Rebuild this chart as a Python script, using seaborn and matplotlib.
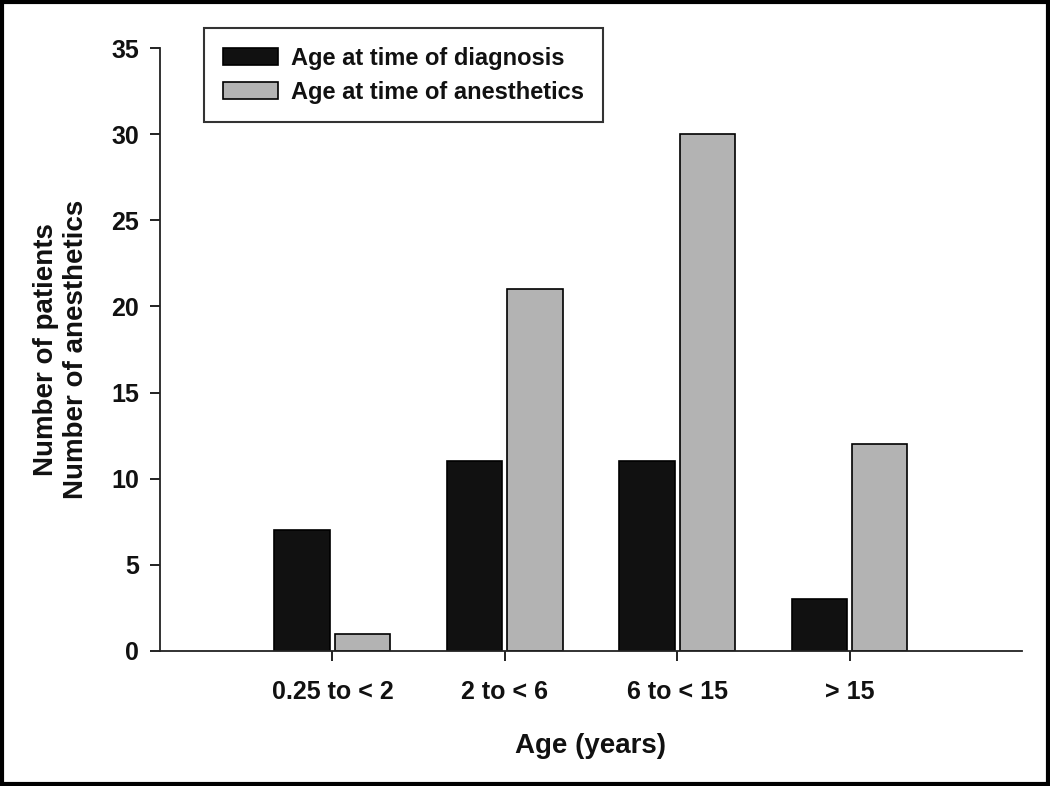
import pandas as pd
import matplotlib.pyplot as plt
import seaborn as sns
from matplotlib.patches import Rectangle

sns.set_style("ticks")
plt.rcParams['font.family'] = ['Liberation Sans', 'DejaVu Sans']
plt.rcParams['font.weight'] = 'bold'
plt.rcParams['text.color'] = '#111111'
plt.rcParams['axes.labelcolor'] = '#111111'
plt.rcParams['xtick.color'] = '#111111'
plt.rcParams['ytick.color'] = '#111111'

# dados
categorias = ["0.25 to < 2", "2 to < 6", "6 to < 15", "> 15"]
diagnostico = [7, 11, 11, 3]
anestesia = [1, 21, 30, 12]
series = ["Age at time of diagnosis", "Age at time of anesthetics"]

df = pd.DataFrame({
    "Idade": categorias * 2,
    "Valor": diagnostico + anestesia,
    "Serie": [series[0]] * 4 + [series[1]] * 4,
})

fig = plt.figure(figsize=(10.5, 7.86), dpi=100)
ax = fig.add_axes([0.1524, 0.1718, 0.8209, 0.7671])

sns.barplot(data=df, x="Idade", y="Valor", hue="Serie", order=categorias,
            hue_order=series, palette=["#111111", "#b3b3b3"],
            width=0.7, gap=0.08, edgecolor="black", linewidth=1.2,
            errorbar=None, ax=ax, saturation=1)

ax.set_xlim(-1, 4)
ax.set_ylim(0, 35)
ax.set_yticks(range(0, 36, 5))
sns.despine(ax=ax)
for s in ["left", "bottom"]:
    ax.spines[s].set_linewidth(1.3)
    ax.spines[s].set_color("#222222")
ax.tick_params(axis="both", direction="out", length=7, width=1.3,
               labelsize=18, pad=8)
ax.tick_params(axis="x", pad=14)
for lbl in ax.get_xticklabels() + ax.get_yticklabels():
    lbl.set_fontweight("bold")

ax.set_xlabel("Age (years)", fontsize=20, fontweight="bold", labelpad=21)
ax.set_ylabel("Number of patients\nNumber of anesthetics", fontsize=20,
              fontweight="bold", labelpad=16, linespacing=1.22)

leg = ax.legend(loc="upper left", bbox_to_anchor=(204 / 1050, 1 - 28 / 786),
                bbox_transform=fig.transFigure, frameon=True, fancybox=False,
                prop={"weight": "bold", "size": 17},
                handlelength=2.35, handleheight=0.75, borderpad=0.8,
                labelspacing=0.45, borderaxespad=0, handletextpad=0.55)
leg.get_frame().set_edgecolor("black")
leg.get_frame().set_linewidth(1.5)

# moldura em volta da figura
fig.patches.append(Rectangle((0.002, 0.002), 0.996, 0.996, transform=fig.transFigure,
                             fill=False, edgecolor="black", linewidth=3))

plt.savefig("out.png", dpi=100)
